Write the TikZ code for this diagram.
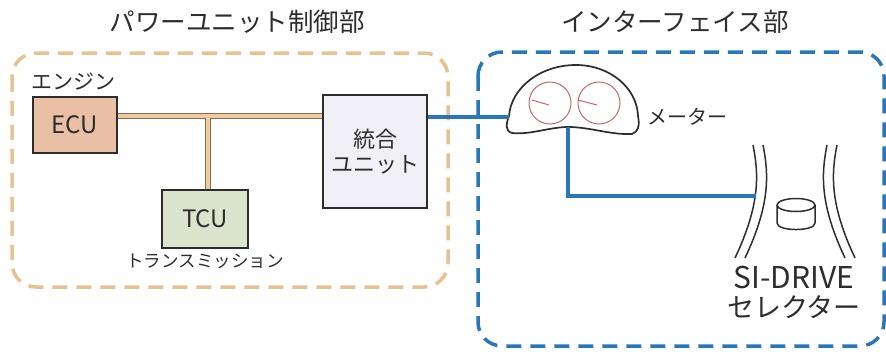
\documentclass[tikz,border=0pt]{standalone}
\usepackage{fontspec}
\setmainfont{Noto Sans CJK JP}
\usetikzlibrary{positioning}
\definecolor{pwrtan}{RGB}{232,193,144}
\definecolor{ifblue}{RGB}{40,120,185}
\definecolor{ecufill}{RGB}{233,192,166}
\definecolor{tcufill}{RGB}{219,229,206}
\definecolor{unitfill}{RGB}{240,240,246}
\definecolor{busedge}{RGB}{128,110,88}
\definecolor{busfill}{RGB}{242,202,160}
\definecolor{gauge}{RGB}{200,105,105}
\definecolor{ink}{RGB}{45,45,45}

\begin{document}
\begin{tikzpicture}[%
x=1pt, y=-1pt,
frame/.style={line width=3.5pt, dash pattern=on 15pt off 9pt, rounded corners=24pt},
unitbox/.style={draw=ink, line width=1.4pt, inner sep=0pt, align=center, text=ink, font=\fontsize{24}{26}\selectfont},
lbl/.style={inner sep=0pt, text=ink},
link/.style={ifblue, line width=3.2pt},
]
\useasboundingbox (0,0) rectangle (886,351);
%% frames;
\draw [pwrtan, frame] (12,53) rectangle (448,287);
\draw [ifblue, frame] (478,52) rectangle (884,346);
\node[lbl, font=\fontsize{25.5}{28}\selectfont] (pwrtitle) at (237,22) {パワーユニット制御部};
\node[lbl, font=\fontsize{25.5}{28}\selectfont] (iftitle) at (675,22) {インターフェイス部};
%% units;
\node[unitbox, fill=ecufill, minimum width=84pt, minimum height=56pt] (ecu) at (75,125) {ECU};
\node[unitbox, fill=tcufill, minimum width=86pt, minimum height=58pt] (tcu) at (205,219) {TCU};
\node[unitbox, fill=unitfill, minimum width=104pt, minimum height=113pt, font=\fontsize{22}{25}\selectfont] (unit) at (375,151.5) {統合\\ユニット};
\node[lbl, font=\fontsize{21}{23}\selectfont, above right=6pt and -1pt of ecu.north west] (englbl) {エンジン};
\node[lbl, font=\fontsize{17.5}{20}\selectfont, below=5pt of tcu] (tmlbl) {トランスミッション};
%% bus;
\coordinate (bus) at (208,116);
\foreach \w/\c in {6.5/busedge,3.6/busfill}
  \draw[line width=\w pt, \c] (ecu.east |- bus) -- (unit.west |- bus) (bus) -- (tcu.north -| bus);
%% meter;
\draw[ink, line width=1.7pt, fill=white] (512,133) .. controls (505,131) and (506,124) .. (509,116)
  .. controls (511,88) and (540,65) .. (576,65) .. controls (610,65) and (637,88) .. (638,116)
  .. controls (640,126) and (638,132) .. (632,134) .. controls (610,135) and (590,127) .. (568,127)
  .. controls (550,127) and (530,135) .. (512,133) -- cycle;
\draw[gauge, line width=1pt] (550,103) circle (21) (599,103) circle (21);
\draw[gauge, line width=1pt] (532,100) -- (549,105) (578,100) -- (597,105);
\coordinate (mleft) at (509,117);
\coordinate (mbot) at (568,127);
\coordinate (mright) at (638,117);
\node[lbl, font=\fontsize{20}{22}\selectfont, right=9pt of mright] (mlbl) {メーター};
%% selector;
\foreach \d in {0,10} {
  \draw[ink, line width=1.5pt] (753+\d,145) .. controls (759+\d,175) and (760+\d,205) .. (735+\d,258);
  \draw[ink, line width=1.5pt] (837-\d,145) .. controls (831-\d,175) and (830-\d,205) .. (855-\d,258);
}
\draw[ink, line width=1.5pt] (796,205) ellipse (19 and 6.5);
\draw[ink, line width=1.5pt] (777,205) -- (777,223) .. controls (777,231.7) and (815,231.7) .. (815,223) -- (815,205);
\coordinate (sel) at (756,196);
\node[lbl, font=\fontsize{30}{32}\selectfont] (silbl) at (794,278) {SI-DRIVE};
\node[lbl, font=\fontsize{27}{29}\selectfont, below=6pt of silbl] (sellbl) {セレクター};
%% links;
\draw[link] (unit.east |- mleft) -- (mleft);
\draw[link] (mbot) |- (sel);
\end{tikzpicture}
\end{document}
